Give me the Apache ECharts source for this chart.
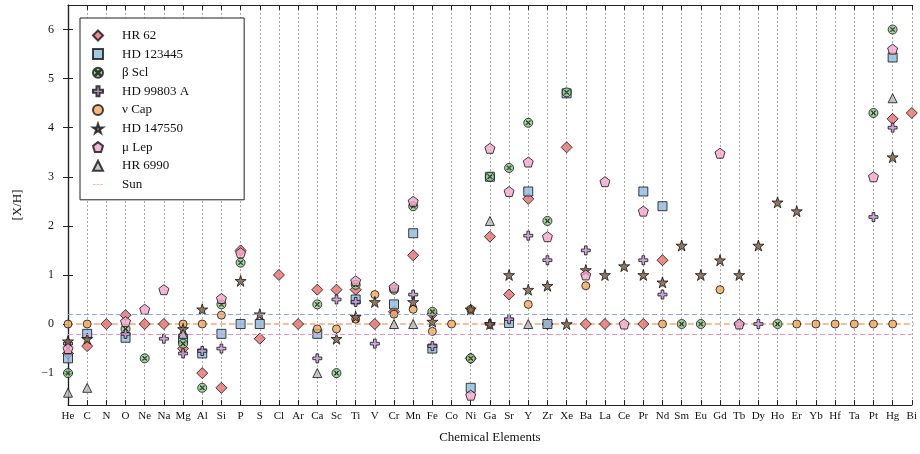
<!DOCTYPE html>
<html>
<head>
<meta charset="utf-8">
<script src="https://cdn.jsdelivr.net/npm/echarts@6/dist/echarts.min.js"></script>
<style>html,body,#main{width:920px;height:454px;margin:0;background:#fff}</style>
</head>
<body>
<div id="main"></div>
<script>
var elements = ['He','C','N','O','Ne','Na','Mg','Al','Si','P','S','Cl','Ar','Ca','Sc','Ti','V','Cr','Mn','Fe','Co','Ni','Ga','Sr','Y','Zr','Xe','Ba','La','Ce','Pr','Nd','Sm','Eu','Gd','Tb','Dy','Ho','Er','Yb','Hf','Ta','Pt','Hg','Bi'];
var _ = null;
//            He    C     N   O     Ne    Na   Mg    Al    Si    P     S     Cl  Ar  Ca    Sc    Ti    V     Cr    Mn    Fe    Co  Ni    Ga    Sr    Y     Zr    Xe    Ba    La    Ce    Pr    Nd    Sm    Eu    Gd    Tb    Dy    Ho    Er    Yb  Hf  Ta  Pt    Hg    Bi
var hr62     = [-0.6,-0.45,0,  0.18, 0,    0,  -0.5, -1.0, -1.3, 1.5, -0.3,  1.0, 0,  0.7,  0.7,  0.7,  0,    0.25, 1.4,  0.2,  _, -0.7, 1.78, 0.6,  2.55, 0,    3.6,  0,    0,    _,    0,    1.3,  _,    _,    _,    _,    _,    _,    _,    _,  _,  _,  _,    4.18, 4.3];
var hd123445 = [-0.7,-0.2, _,  -0.28,_,    _,  -0.3, -0.6, -0.2, 0,    0,    _,  _,  -0.2, _,    0.5,  _,    0.4,  1.85, -0.5, _, -1.3, 3.0,  0.02, 2.7,  0,    4.7,  _,    _,    _,    2.7,  2.4,  _,    _,    _,    _,    _,    _,    _,    _,  _,  _,  _,    5.43, _];
var betaScl  = [-1.0,_,    _,  -0.1, -0.7, _,  -0.4, -1.3, 0.4,  1.25, _,    _,  _,  0.4,  -1.0, 0.8,  _,    0.7,  2.4,  0.25, _, -0.7, 3.0,  3.18, 4.1,  2.1,  4.72, _,    _,    _,    _,    _,    0,    0,    _,    _,    _,    0,    _,    _,  _,  _,  4.3,  6.0,  _];
var hd99803  = [-0.4,_,    _,  -0.2, _,    -0.3,-0.6, -0.55,-0.5, _,    _,    _,  _,  -0.7, 0.5,  0.45, -0.4, _,    0.6,  -0.45,_, _,    0,    0.1,  1.8,  1.3,  _,    1.5,  _,    _,    1.3,  0.6,  _,    _,    _,    0,    0,    _,    _,    _,  _,  _,  2.18, 4.0,  _];
var nuCap    = [0,   0,    _,  _,    _,    _,  0,    0,    0.18, _,    _,    _,  _,  -0.1, -0.1, 0.1,  0.6,  0.2,  0.3,  -0.15,0, 0.3,  _,    _,    0.4,  _,    _,    0.78, _,    _,    _,    0,    _,    _,    0.7,  _,    _,    _,    0,    0,  0,  0,  0,    0,    _];
var hd147550 = [-0.35,-0.3,_,  _,    _,    _,  -0.1, 0.3,  _,    0.88, 0.2,  _,  _,  _,    -0.3, 0.15, 0.45, _,    0.45, 0.05, _, 0.3,  0,    1.0,  0.7,  0.78, 0,    1.1,  1.0,  1.18, 1.0,  0.85, 1.6,  1.0,  1.3,  1.0,  1.6,  2.48, 2.3,  _,  _,  _,  _,    3.4,  _];
var muLep    = [-0.5,_,    _,  0.05, 0.3,  0.7,_,    _,    0.52, 1.45, _,    _,  _,  _,    _,    0.88, _,    0.75, 2.5,  _,    _, -1.45,3.58, 2.7,  3.3,  1.78, _,    1.0,  2.9,  0,    2.3,  _,    _,    _,    3.48, 0,    _,    _,    _,    _,  _,  _,  3.0,  5.6,  _];
var hr6990   = [-1.4,-1.3, _,  _,    _,    _,  -0.2, _,    _,    _,    _,    _,  _,  -1.0, _,    _,    _,    0,    0,    _,    _, _,    2.1,  _,    0,    _,    _,    _,    _,    _,    _,    _,    _,    _,    _,    _,    _,    _,    _,    _,  _,  _,  _,    4.6,  _];
var yTicks = [-1,0,1,2,3,4,5,6];

var starPath = 'path://M50,0 L61,35 L98,35 L68,57 L79,91 L50,70 L21,91 L32,57 L2,35 L39,35 Z';
var plusPath = 'path://M35,0 L65,0 L65,35 L100,35 L100,65 L65,65 L65,100 L35,100 L35,65 L0,65 L0,35 L35,35 Z';
var pentPath = 'path://M50,0 L100,38 L81,100 L19,100 L0,38 Z';
var xPath = 'path://M50,0 A50,50 0 1,1 49.9,0 Z M25,30 L30,25 L50,45 L70,25 L75,30 L55,50 L75,70 L70,75 L50,55 L30,75 L25,70 L45,50 Z';
var dashPath = 'path://M0,4 L7,4 L7,6 L0,6 Z M10,4 L17,4 L17,6 L10,6 Z M20,4 L27,4 L27,6 L20,6 Z';

function pts(arr) {
  var out = [];
  arr.forEach(function (v, i) { if (v !== null) out.push([i, v]); });
  return out;
}
var defs = [
  ['HR 62', hr62, 'diamond', 11, '#e8706e'],
  ['HD 123445', hd123445, 'rect', 9, '#8db9de'],
  ['β Scl', betaScl, xPath, 9, '#8ed08a'],
  ['HD 99803 A', hd99803, plusPath, 9, '#c495d6'],
  ['ν Cap', nuCap, 'circle', 8, '#f4a85c'],
  ['HD 147550', hd147550, starPath, 11, '#7a5a40'],
  ['μ Lep', muLep, pentPath, 10, '#f4a6cc'],
  ['HR 6990', hr6990, 'triangle', 9, '#b8b8b8']
];
var font = 'Liberation Serif';
var chart = echarts.init(document.getElementById('main'));
var series = [
  { name: 'Sun', type: 'line', data: [[-1, 0], [45, 0]], symbol: 'none', z: 1,
    itemStyle: { color: '#f4a582' },
    lineStyle: { color: '#f4a582', width: 1.5, type: [6, 3] },
    markLine: { silent: true, symbol: 'none', label: { show: false },
      data: [
        { yAxis: 0.2, lineStyle: { color: '#92a8e0', type: [5, 3], width: 1 } },
        { yAxis: -0.2, lineStyle: { color: '#e890d0', type: [5, 3], width: 1 } }
      ] } }
];
var legendData = [];
defs.forEach(function (d) {
  series.push({ name: d[0], type: 'scatter', data: pts(d[1]), symbol: d[2], symbolSize: d[3],
    itemStyle: { color: d[4], borderColor: '#111', borderWidth: 1 } });
  legendData.push({ name: d[0], icon: d[2] });
});
legendData.push({ name: 'Sun', icon: dashPath, itemStyle: { color: '#f4a582', borderWidth: 0 } });

var xAx = {
  type: 'value', min: 0, max: 44, interval: 1,
  axisLine: { show: true, onZero: false, lineStyle: { color: '#222', width: 1.2 } },
  axisTick: { inside: true, length: 5, lineStyle: { color: '#222' } },
  splitLine: { show: true, lineStyle: { color: '#aaa', type: [2, 2], width: 1 } }
};
chart.setOption({
  animation: false,
  textStyle: { fontFamily: font },
  grid: { left: 68, right: 5, top: 5, bottom: 49 },
  legend: {
    data: legendData, orient: 'vertical', left: 80, top: 18,
    itemWidth: 10, itemHeight: 10, itemGap: 5.6,
    borderColor: '#222', borderWidth: 1, padding: [11, 55, 9, 12],
    backgroundColor: '#fff',
    textStyle: { fontFamily: font, fontSize: 13, color: '#111', padding: [0, 0, 0, 14] }
  },
  xAxis: [
    Object.assign({}, xAx, {
      position: 'bottom', name: 'Chemical Elements', nameLocation: 'middle', nameGap: 26,
      nameTextStyle: { fontSize: 13, color: '#111' },
      axisLabel: { fontSize: 11, color: '#111', margin: 6, formatter: function (v) { return elements[v] || ''; } }
    }),
    Object.assign({}, xAx, { position: 'top', axisLabel: { show: false }, splitLine: { show: false } })
  ],
  yAxis: [
    { type: 'value', min: -1.65, max: 6.5, offset: 6,
      name: '[X/H]', nameLocation: 'middle', nameGap: 38, nameTextStyle: { fontSize: 13, color: '#111' },
      axisLine: { show: true, lineStyle: { color: '#222', width: 1.2 } },
      axisTick: { inside: true, length: 5, customValues: yTicks, lineStyle: { color: '#222' } },
      axisLabel: { fontSize: 12, color: '#111', customValues: yTicks,
        formatter: function (v) { return v < 0 ? '\u2212' + Math.abs(v) : String(v); } },
      splitLine: { show: false } },
    { type: 'value', min: -1.65, max: 6.5, position: 'right',
      axisLine: { show: true, lineStyle: { color: '#222', width: 1.2 } },
      axisTick: { inside: true, length: 5, customValues: yTicks, lineStyle: { color: '#222' } },
      axisLabel: { show: false }, splitLine: { show: false } }
  ],
  series: series
});
</script>
</body>
</html>
